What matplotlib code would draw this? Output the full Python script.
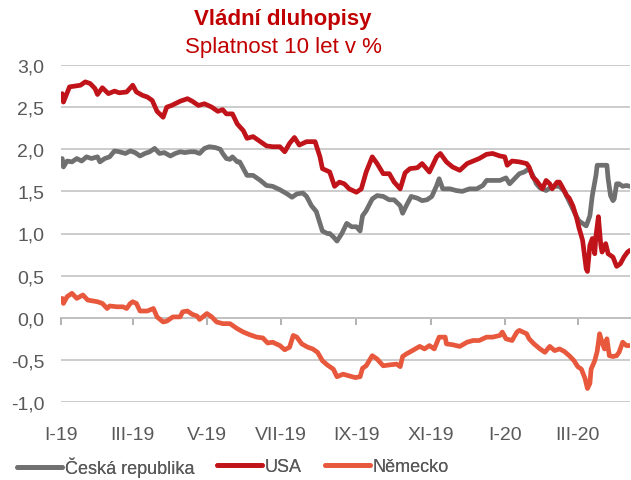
import numpy as np
import pandas as pd
import matplotlib
matplotlib.use('Agg')
import matplotlib.pyplot as plt
import matplotlib.dates as mdates
from matplotlib.ticker import FuncFormatter

plt.rcParams['font.family'] = ['Liberation Sans', 'DejaVu Sans']

start = pd.Timestamp('2019-01-01')

# days since 1.1.2019 and yields in %
cz_days = [1, 2, 5, 9, 13, 17, 21, 25, 30, 32, 36, 40, 44, 48, 53, 57, 61, 65, 69, 73,
           77, 81, 85, 90, 94, 98, 102, 106, 110, 114, 118, 122, 127, 131, 133, 136, 139, 141, 145, 147,
           150, 153, 158, 164, 169, 174, 180, 186, 190, 194, 199, 202, 206, 210, 213, 215, 219, 221, 224, 227,
           231, 235, 239, 243, 246, 248, 251, 256, 260, 265, 270, 274, 279, 281, 284, 288, 293, 297, 301, 305,
           309, 311, 314, 320, 325, 330, 336, 342, 347, 350, 355, 361, 366, 369, 373, 377, 381, 385, 388, 391,
           394, 399, 404, 410, 414, 418, 421, 424, 426, 429, 432, 435, 437, 440, 441, 445, 449, 450, 452, 454,
           455, 457, 459, 462, 465, 468]
cz_vals = [1.89, 1.79, 1.86, 1.85, 1.89, 1.86, 1.91, 1.89, 1.91, 1.85, 1.89, 1.91, 1.98, 1.97, 1.95, 1.98, 1.96, 1.92, 1.95, 1.97,
           2.01, 1.95, 1.96, 1.92, 1.95, 1.97, 1.96, 1.97, 1.97, 1.95, 2.01, 2.03, 2.02, 2.00, 1.95, 1.89, 1.88, 1.91, 1.85, 1.85,
           1.77, 1.69, 1.69, 1.63, 1.57, 1.56, 1.52, 1.47, 1.43, 1.47, 1.48, 1.44, 1.33, 1.26, 1.12, 1.03, 1.00, 1.00, 0.96, 0.91,
           1.00, 1.12, 1.08, 1.08, 1.03, 1.21, 1.27, 1.41, 1.45, 1.44, 1.40, 1.40, 1.33, 1.24, 1.33, 1.44, 1.42, 1.39, 1.40, 1.44,
           1.57, 1.65, 1.53, 1.53, 1.51, 1.50, 1.53, 1.53, 1.57, 1.63, 1.63, 1.63, 1.66, 1.59, 1.65, 1.71, 1.73, 1.77, 1.69, 1.59,
           1.54, 1.51, 1.56, 1.56, 1.50, 1.38, 1.29, 1.20, 1.15, 1.12, 1.09, 1.21, 1.45, 1.69, 1.81, 1.81, 1.81, 1.65, 1.45, 1.39,
           1.41, 1.59, 1.59, 1.56, 1.57, 1.56]

usa_days = [1, 2, 7, 16, 20, 24, 28, 30, 34, 39, 44, 48, 54, 59, 62, 67, 71, 75, 79, 84,
            87, 91, 98, 104, 108, 113, 118, 124, 129, 133, 136, 141, 145, 150, 153, 158, 164, 169, 174, 180,
            184, 188, 192, 196, 202, 209, 213, 215, 221, 225, 229, 233, 237, 243, 247, 251, 256, 260, 265, 270,
            274, 279, 283, 287, 293, 297, 303, 309, 312, 317, 322, 328, 334, 339, 344, 350, 355, 361, 365, 367,
            371, 377, 383, 385, 388, 391, 394, 396, 399, 402, 404, 408, 410, 412, 416, 418, 421, 424, 426, 429,
            432, 433, 435, 437, 439, 440, 442, 444, 445, 448, 450, 454, 457, 460, 463, 466, 468]
usa_vals = [2.66, 2.56, 2.74, 2.76, 2.80, 2.78, 2.72, 2.65, 2.73, 2.66, 2.69, 2.67, 2.68, 2.76, 2.68, 2.64, 2.62, 2.58, 2.45, 2.38,
            2.50, 2.52, 2.57, 2.60, 2.57, 2.52, 2.54, 2.50, 2.45, 2.47, 2.42, 2.42, 2.30, 2.22, 2.13, 2.15, 2.09, 2.04, 2.03, 2.03,
            1.97, 2.07, 2.14, 2.05, 2.09, 2.09, 1.91, 1.77, 1.73, 1.56, 1.61, 1.59, 1.53, 1.49, 1.53, 1.73, 1.91, 1.83, 1.71, 1.71,
            1.61, 1.53, 1.72, 1.77, 1.78, 1.83, 1.73, 1.91, 1.95, 1.85, 1.79, 1.75, 1.83, 1.86, 1.89, 1.94, 1.95, 1.92, 1.91, 1.81,
            1.86, 1.85, 1.83, 1.79, 1.67, 1.63, 1.57, 1.53, 1.63, 1.59, 1.53, 1.61, 1.61, 1.56, 1.45, 1.42, 1.33, 1.19, 1.07, 0.92,
            0.58, 0.55, 0.86, 0.94, 0.76, 0.97, 1.20, 0.86, 0.78, 0.88, 0.76, 0.72, 0.61, 0.64, 0.72, 0.78, 0.80]

de_days = [1, 2, 5, 9, 13, 18, 22, 26, 30, 34, 38, 40, 46, 51, 54, 57, 59, 62, 65, 71,
           76, 79, 84, 87, 92, 98, 100, 104, 108, 112, 114, 120, 124, 128, 133, 139, 145, 150, 155, 161,
           166, 170, 174, 180, 184, 188, 191, 194, 198, 203, 207, 211, 215, 219, 224, 227, 232, 237, 242, 246,
           248, 251, 256, 260, 265, 270, 276, 279, 281, 284, 289, 295, 299, 303, 307, 311, 316, 317, 322, 328,
           334, 339, 344, 350, 355, 361, 363, 366, 371, 375, 377, 380, 383, 385, 389, 394, 398, 402, 406, 410,
           414, 418, 422, 425, 428, 431, 433, 435, 436, 439, 441, 443, 445, 447, 449, 451, 454, 457, 459, 462,
           465, 468]
de_vals = [0.23, 0.17, 0.25, 0.29, 0.23, 0.27, 0.21, 0.20, 0.19, 0.17, 0.11, 0.14, 0.13, 0.13, 0.11, 0.17, 0.19, 0.17, 0.08, 0.08,
           0.11, 0.01, -0.05, -0.04, 0.01, 0.01, 0.07, 0.08, 0.04, 0.02, -0.02, 0.05, 0.01, -0.05, -0.07, -0.07, -0.13, -0.17, -0.20, -0.23,
           -0.24, -0.30, -0.29, -0.33, -0.38, -0.35, -0.21, -0.23, -0.31, -0.35, -0.37, -0.41, -0.51, -0.56, -0.61, -0.70, -0.67, -0.69, -0.71, -0.70,
           -0.60, -0.57, -0.45, -0.49, -0.57, -0.56, -0.55, -0.58, -0.46, -0.43, -0.39, -0.34, -0.37, -0.33, -0.37, -0.23, -0.23, -0.31, -0.32, -0.34,
           -0.29, -0.27, -0.27, -0.23, -0.23, -0.21, -0.17, -0.25, -0.27, -0.17, -0.15, -0.17, -0.19, -0.25, -0.31, -0.37, -0.41, -0.34, -0.39, -0.37,
           -0.40, -0.45, -0.51, -0.58, -0.61, -0.72, -0.84, -0.78, -0.61, -0.51, -0.40, -0.19, -0.29, -0.37, -0.25, -0.45, -0.46, -0.45, -0.41, -0.29,
           -0.33, -0.33]

tick_dates = ['2019-01-01', '2019-03-01', '2019-05-01', '2019-07-01',
              '2019-09-01', '2019-11-01', '2020-01-01', '2020-03-01']
tick_labels = ['I-19', 'III-19', 'V-19', 'VII-19', 'IX-19', 'XI-19', 'I-20', 'III-20']


def to_num(days):
    return mdates.date2num(start + pd.to_timedelta(days, unit='D'))


fig = plt.figure(figsize=(6.31, 4.81), dpi=100)
ax = fig.add_axes([61/631, 1 - 403/481, 569/631, 337/481])

series = [('Česká republika', cz_days, cz_vals, '#707070'),
          ('USA', usa_days, usa_vals, '#C0141A'),
          ('Německo', de_days, de_vals, '#E8583D')]
handles = []
for name, d, v, col in series:
    ln, = ax.plot(to_num(d), v, color=col, lw=3.4, solid_joinstyle='round',
                  solid_capstyle='round', label=name)
    handles.append(ln)

ticks = mdates.date2num(pd.to_datetime(tick_dates))
ax.set_xlim(mdates.date2num(pd.Timestamp('2019-01-01')), mdates.date2num(pd.Timestamp('2020-04-13')))
ax.set_ylim(-1, 3)
ax.set_yticks(np.arange(-1, 3.01, 0.5))
ax.yaxis.set_major_formatter(FuncFormatter(lambda y, p: f'{y:.1f}'.replace('.', ',')))
ax.set_xticks(ticks, tick_labels)
ax.grid(axis='y', color='#C4C4C4', lw=1.2)
ax.set_axisbelow(True)
for s in ax.spines.values():
    s.set_visible(False)
ax.tick_params(axis='y', length=0, pad=12, labelsize=14, labelcolor='#595959')
ax.tick_params(axis='x', length=0, pad=17, labelsize=14, labelcolor='#595959')

# zero line with tick marks
sec = ax.secondary_xaxis(0.25)
sec.set_xticks(ticks)
sec.tick_params(length=5, width=1.2, color='#A6A6A6', labelbottom=False)
sec.spines['bottom'].set_color('#A6A6A6')
sec.spines['bottom'].set_linewidth(1.2)
sec.set_zorder(0)

fig.text(283/631, 1 - 20/481, 'Vládní dluhopisy', ha='center', va='center',
         fontsize=16, fontweight='bold', color='#C00000')
fig.text(283/631, 1 - 48/481, 'Splatnost 10 let v %', ha='center', va='center',
         fontsize=16, color='#C00000')

# one legend entry per series, placed along the bottom
for h, lx in zip(handles, [17, 217, 325]):
    fig.add_artist(fig.legend(handles=[h], loc='center left',
                              bbox_to_anchor=(lx/631, 1 - 468/481),
                              frameon=False, handlelength=2.5, handletextpad=0.15,
                              borderpad=0, borderaxespad=0, fontsize=13,
                              labelcolor='#595959'))

fig.savefig('out.png', dpi=100)
